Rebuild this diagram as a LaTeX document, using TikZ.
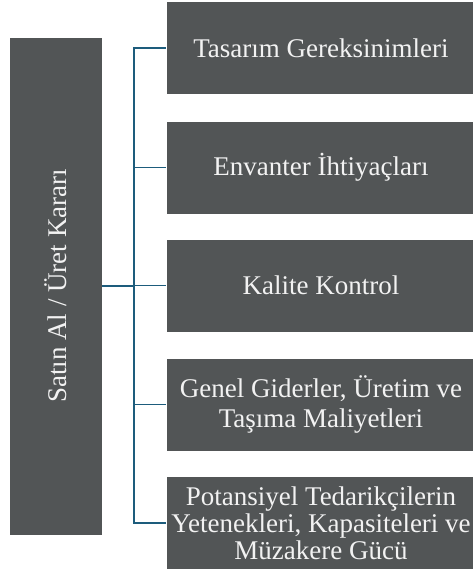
\documentclass[tikz,border=0pt]{standalone}
\usepackage{fontspec}
\setmainfont{Liberation Serif}
\newfontfamily\tnr{Liberation Serif}
\definecolor{boxgray}{HTML}{525556}
\definecolor{conncol}{HTML}{1D5C7C}
\definecolor{txtcol}{HTML}{F2F2F2}
\begin{document}
\begin{tikzpicture}[x=1pt,y=-1pt,
  itembox/.style={fill=boxgray,draw=white,line width=0.6pt,minimum width=310pt,minimum height=93pt,
    inner sep=0pt,align=center,text=txtcol,font=\tnr\fontsize{27}{30}\selectfont},
  conn/.style={draw=conncol,line width=1.6pt},
  connthick/.style={draw=conncol,line width=2.4pt}]
\useasboundingbox (0,0) rectangle (472,570);
\node[fill=boxgray,draw=white,line width=0.6pt,minimum width=93pt,minimum height=498pt,inner sep=0pt] (L) at (55.5,286) {};
\node[rotate=90,text=txtcol,font=\tnr\fontsize{27}{30}\selectfont] (Lt) at (56,286) {Satın Al / Üret Kararı};
\node[itembox] (b1) at (321,48) {Tasarım Gereksinimleri};
\node[itembox] (b2) at (321,167.5) {Envanter İhtiyaçları};
\node[itembox] (b3) at (321,285.5) {Kalite Kontrol};
\node[itembox] (b4) at (321,404.5) {Genel Giderler, Üretim ve\\Taşıma Maliyetleri};
\node[itembox,font=\tnr\fontsize{27}{27}\selectfont] (b5) at (321,523) {Potansiyel Tedarikçilerin\\Yetenekleri, Kapasiteleri ve\\Müzakere Gücü};
\coordinate (tk) at (134,286);
\foreach \b in {b1,b2,b3,b4,b5} {\draw[conn] (\b.west) -| (tk);}
\draw[connthick] (L.east) -- (tk);
\end{tikzpicture}
\end{document}
